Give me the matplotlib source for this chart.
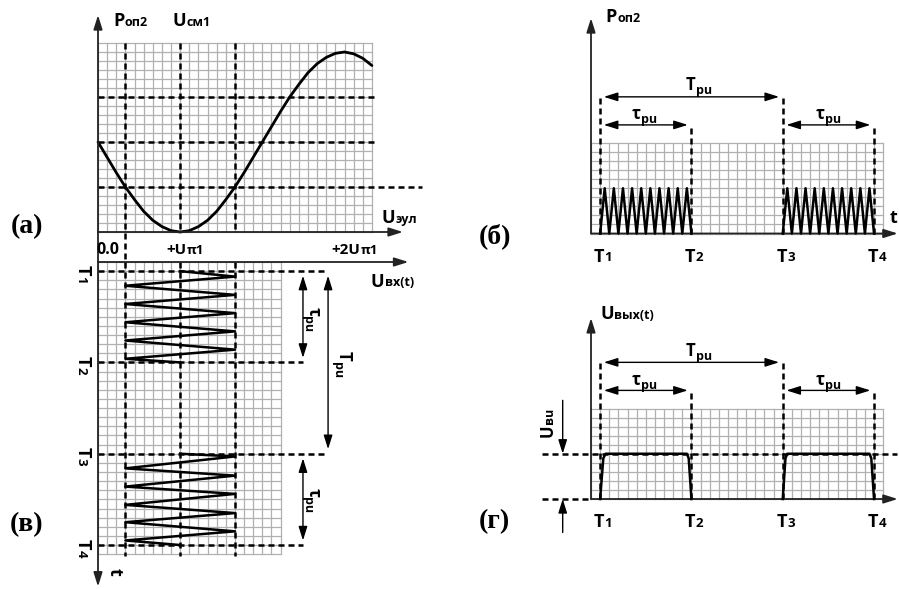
import matplotlib.pyplot as plt
import matplotlib.transforms as mtransforms

plt.rcParams['font.family'] = ['Open Sans', 'DejaVu Sans']

# ---- values (all in grid cells) ----
# (а) transfer curve P_оп2 against U_эул
u_curve = [0, 1, 2, 3, 4, 5, 6, 7, 8, 9, 10, 11, 12, 13, 14, 15,
           16, 17, 18, 19, 20, 21, 22, 23, 24, 25, 26, 27, 28, 29, 30]
p_curve = [10.0, 8.3, 6.6, 5.0, 3.6, 2.3, 1.3, 0.6, 0.15, 0.0, 0.15, 0.6,
           1.3, 2.3, 3.6, 5.0, 6.6, 8.3, 10.0, 11.7, 13.4, 15.0, 16.4, 17.7,
           18.7, 19.4, 19.85, 20.0, 19.8, 19.3, 18.5]
u_marks = [3, 9, 15]          # dashed verticals (U_см1 in the middle)
p_levels = [15, 10, 5]        # dashed horizontals
u_ticklabels = [('0.0', ''), ('+U', 'π1'), ('+2U', 'π1')]

# time marks T1..T4 (same for (б), (в), (г))
t_marks = [1, 11, 21, 31]
t_names = ['1', '2', '3', '4']

# (в) input signal U_вх(t), two bursts
v_u1 = [9, 15, 3, 15, 3, 15, 3, 15, 3, 15, 3, 9]
v_t1 = [1.0, 1.6, 2.6, 3.6, 4.6, 5.6, 6.6, 7.6, 8.6, 9.6, 10.6, 11.0]
v_u2 = [9, 15, 3, 15, 3, 15, 3, 15, 3, 15, 3, 9]
v_t2 = [21.0, 21.3, 22.6, 23.4, 24.6, 25.4, 26.6, 27.5, 28.5, 29.5, 30.5, 31.0]

# (б) P_оп2(t)
b_t1 = [1.0, 1.5, 2.0, 2.5, 3.0, 3.5, 4.0, 4.5, 5.0, 5.5, 6.0,
        6.5, 7.0, 7.5, 8.0, 8.5, 9.0, 9.5, 10.0, 10.5, 11.0]
b_t2 = [21.0, 21.5, 22.0, 22.5, 23.0, 23.5, 24.0, 24.5, 25.0, 25.5, 26.0,
        26.5, 27.0, 27.5, 28.0, 28.5, 29.0, 29.5, 30.0, 30.5, 31.0]
b_p = [0, 5, 0, 5, 0, 5, 0, 5, 0, 5, 0, 5, 0, 5, 0, 5, 0, 5, 0, 5, 0]

# (г) U_вых(t)
g_t1 = [1.0, 1.35, 1.6, 10.5, 10.7, 11.0]
g_t2 = [21.0, 21.3, 21.5, 30.5, 30.7, 31.0]
g_u = [0, 4.5, 5.0, 5.0, 4.5, 0]
u_vu = 5.0

GRID = '#b0b0b0'
AX = '#222222'
DASH = (0, (2.4, 1.6))

fig = plt.figure(figsize=(8.99, 5.89), dpi=100)
ax = fig.add_axes([0, 0, 1, 1])
ax.set_xlim(0, 899)
ax.set_ylim(589, 0)
ax.axis('off')


def panel(x0, y0, sx, sy):
    return mtransforms.Affine2D().scale(sx, sy).translate(x0, y0) + ax.transData


tr_a = panel(98, 232, 9.13, -9.0)
tr_v = panel(98, 262, 9.13, 9.13)
tr_b = panel(591, 233.5, 9.13, -9.05)
tr_g = panel(591, 499, 9.13, -9.05)


def grid(tr, nx, ny):
    for i in range(nx + 1):
        ax.plot([i, i], [0, ny], color=GRID, lw=0.9, transform=tr, zorder=1)
    for j in range(ny + 1):
        ax.plot([0, nx], [j, j], color=GRID, lw=0.9, transform=tr, zorder=1)


def dashed(tr, xs, ys):
    ax.plot(xs, ys, color='k', lw=1.8, ls=DASH, transform=tr, zorder=3)


def arrow(tr, start, end, style='<|-|>', lw=1.0, color='k', ms=12):
    ax.annotate('', xy=end, xytext=start, xycoords=tr, textcoords=tr,
                arrowprops=dict(arrowstyle=style + ',head_length=0.7,head_width=0.22',
                                lw=lw, color=color, shrinkA=0, shrinkB=0,
                                mutation_scale=ms), zorder=4)


def label(tr, x, y, main, sub='', size=13, subsize=9, drop=0, rot=0,
          ha='left', va='center'):
    t = ax.text(x, y, main, transform=tr, fontsize=size, fontweight='bold',
                rotation=rot, ha=ha, va=va, zorder=5)
    if sub:
        # boxes are bottom-aligned; lift the small text so baselines meet
        d = drop - 0.24 * (size - subsize)
        if rot == 0:
            xy, off, sha, sva = (1, 0), (0.3, -d), 'left', 'bottom'
        elif rot == -90:
            xy, off, sha, sva = (0, 0), (-d, -0.3), 'left', 'top'
        else:
            xy, off, sha, sva = (1, 1), (d, 0.3), 'right', 'bottom'
        ax.annotate(sub, xy=xy, xycoords=t, xytext=off, textcoords='offset points',
                    fontsize=subsize, fontweight='bold', rotation=rot,
                    ha=sha, va=sva, zorder=5)
    return t


# ---------- (а) ----------
grid(tr_a, 30, 21)
for u in u_marks:
    dashed(tr_a, [u, u], [21, 0 if u != u_marks[0] else -3.33])
dashed(tr_a, [0, 30.4], [p_levels[0]] * 2)
dashed(tr_a, [0, 30.4], [p_levels[1]] * 2)
dashed(tr_a, [0, 35.5], [p_levels[2]] * 2)
ax.plot(u_curve, p_curve, color='k', lw=2.0, transform=tr_a, zorder=4,
        solid_capstyle='round')
arrow(tr_a, (0, -39.4), (0, 24.1), style='<|-|>', lw=1.3, color=AX)
arrow(tr_a, (0, 0), (33.4, 0), style='-|>', lw=1.3, color=AX)
label(tr_a, 1.64, 23.4, 'P', 'оп2')
label(tr_a, 8.2, 23.4, 'U', 'см1')
label(tr_a, 31.1, 1.55, 'U', 'эул')
for (m, s), x in zip(u_ticklabels, [-0.15, 7.5, 25.6]):
    if s:
        label(tr_a, x, -2.0, m, s, size=11, subsize=9.5)
    else:
        label(tr_a, x, -2.0, m, size=11.5)

# ---------- (в) ----------
grid(tr_v, 20, 32)
for u in u_marks:
    dashed(tr_v, [u, u], [0, 32.2])
for i, t in enumerate(t_marks):
    dashed(tr_v, [0, 25.2 if i % 2 == 0 else 22.45], [t, t])
ax.plot(v_u1, v_t1, color='k', lw=1.8, transform=tr_v, zorder=4)
ax.plot(v_u2, v_t2, color='k', lw=1.8, transform=tr_v, zorder=4)
arrow(tr_v, (0, 0), (34.0, 0), style='-|>', lw=1.3, color=AX)
arrow(tr_v, (22.45, t_marks[0] + 0.5), (22.45, t_marks[1] - 0.5))
arrow(tr_v, (22.45, t_marks[2] + 0.5), (22.45, t_marks[3] - 0.5))
arrow(tr_v, (25.2, t_marks[0] + 0.5), (25.2, t_marks[2] - 0.5))
label(tr_v, 29.9, 2.15, 'U', 'вх(t)')
for t, n in zip(t_marks, t_names):
    label(tr_v, -1.7, t - 0.7, 'T', n, size=13, subsize=9.5, rot=-90,
          ha='center', va='top')
label(tr_v, 23.6, 4.9, 'τ', 'pu', size=12, subsize=9, drop=3, rot=-90,
      ha='center', va='top')
label(tr_v, 23.6, 24.75, 'τ', 'pu', size=12, subsize=9, drop=3, rot=-90,
      ha='center', va='top')
label(tr_v, 26.9, 9.8, 'T', 'pu', size=12, subsize=9, drop=3, rot=-90,
      ha='center', va='top')
label(tr_v, 1.85, 33.5, 't', rot=-90, ha='center', va='top')


def time_panel(tr, top):
    grid(tr, 32, 10)
    for i, t in enumerate(t_marks):
        dashed(tr, [t, t], [0, 15.3 if i % 2 == 0 else 12.05])
        label(tr, t - 0.72, -2.55, 'T', t_names[i], size=13, subsize=9.5)
    arrow(tr, (0, 0), (0, top), style='-|>', lw=1.3, color=AX)
    arrow(tr, (0, 0), (33.6, 0), style='-|>', lw=1.3, color=AX)
    arrow(tr, (t_marks[0] + 0.4, 15.1), (t_marks[2] - 0.4, 15.1))
    arrow(tr, (t_marks[0] + 0.4, 12.0), (t_marks[1] - 0.4, 12.0))
    arrow(tr, (t_marks[2] + 0.4, 12.0), (t_marks[3] - 0.4, 12.0))
    label(tr, 10.35, 16.4, 'T', 'pu', size=12, subsize=9, drop=3)
    label(tr, 4.4, 13.2, 'τ', 'pu', size=12, subsize=9, drop=3)
    label(tr, 24.6, 13.2, 'τ', 'pu', size=12, subsize=9, drop=3)


# ---------- (б) ----------
time_panel(tr_b, 23.8)
ax.plot(b_t1, b_p, color='k', lw=1.8, transform=tr_b, zorder=4)
ax.plot(b_t2, b_p, color='k', lw=1.8, transform=tr_b, zorder=4)
label(tr_b, 1.6, 23.9, 'P', 'оп2')
label(tr_b, 33.1, 1.7, 't', ha='center')

# ---------- (г) ----------
time_panel(tr_g, 20.0)
dashed(tr_g, [-5.4, 33.5], [u_vu, u_vu])
dashed(tr_g, [-5.4, 0], [0, 0])
ax.plot(g_t1, g_u, color='k', lw=1.8, transform=tr_g, zorder=4)
ax.plot(g_t2, g_u, color='k', lw=1.8, transform=tr_g, zorder=4)
arrow(tr_g, (-3.1, 10.9), (-3.1, u_vu), style='-|>')
arrow(tr_g, (-3.1, -3.7), (-3.1, 0), style='-|>')
label(tr_g, 1.0, 20.4, 'U', 'вых(t)')
label(tr_g, -4.75, 6.9, 'U', 'вu', size=12, subsize=9, rot=90,
      ha='center', va='bottom')

# panel letters
for txt, x, y in [('(а)', 27, 227), ('(б)', 495, 236), ('(в)', 27, 525), ('(г)', 494, 522)]:
    ax.text(x, y, txt, fontsize=20, fontweight='bold', family='Liberation Serif',
            ha='center', va='center')

fig.savefig('out.png', dpi=100)
